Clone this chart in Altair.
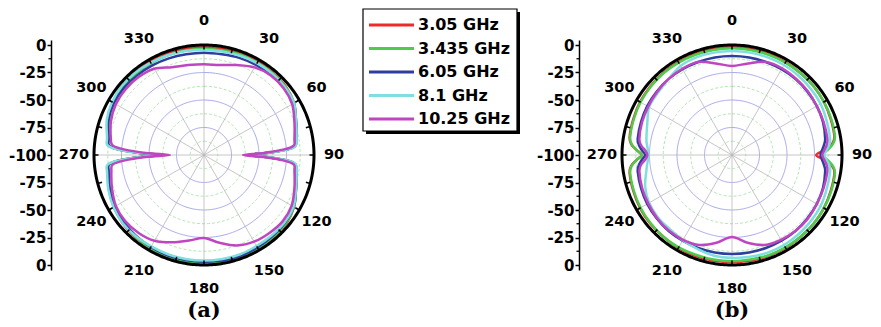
import altair as alt
import pandas as pd

SERIES = ["3.05 GHz", "3.435 GHz", "6.05 GHz", "8.1 GHz", "10.25 GHz"]
COLORS = ["#ee2a2a", "#4ccc4c", "#2e3d9e", "#7fdede", "#c045c0"]

ANGLE_LABELS = [0, 30, 60, 90, 120, 150, 180, 210, 240, 270, 300, 330]
RING_MAJOR = [-75, -50, -25]
RING_MINOR = [-87.5, -62.5, -37.5, -12.5]
AXIS_MAJOR = [0, -25, -50, -75, -100]
AXIS_MINOR = [-12.5, -37.5, -62.5, -87.5]

# ---------------- panel (a) ----------------
A_ANGLES = [0, 10, 20, 30, 40, 50, 60, 70, 80, 84, 86, 88, 90, 92, 94, 96, 100, 110, 120, 130,
            140, 150, 160, 170, 180, 190, 200, 210, 220, 230, 240, 250, 260, 264, 266, 268, 270,
            272, 274, 276, 280, 290, 300, 310, 320, 330, 340, 350]
A_305 = [-2, -2, -2, -2, -2.5, -3, -5.5, -11, -15, -16.5, -23, -41, -60, -41, -23, -16.5, -15, -11, -5.5, -2.5,
         -2, -1.5, -1, -1, -1, -1, -1.5, -2, -2.5, -3.5, -5.5, -8, -11.5, -12.5, -20, -38, -59,
         -38, -20, -12.5, -11.5, -7.5, -4.5, -3, -2.5, -2, -2, -2]
A_3435 = [-3.5, -3.5, -3, -3, -3, -3.5, -5.5, -11, -15, -16.5, -23, -42, -61, -42, -23, -16.5, -15, -11, -5.5, -3,
          -2.5, -2, -1.5, -1.5, -1.5, -2, -2, -2.5, -3, -4, -5.5, -8.5, -12, -13, -21, -40, -61,
          -40, -21, -13, -12, -8, -5, -4, -3.5, -3.5, -3.5, -3.5]
A_605 = [-7, -7, -6, -5.5, -5, -5, -6, -11, -15, -16.5, -23, -42, -61, -42, -23, -16.5, -15, -11, -6, -4,
         -3.5, -3, -2.5, -2.5, -3, -3, -3, -3.5, -4, -5, -6.5, -9, -12, -13, -21, -40, -60,
         -40, -21, -13, -12, -7.5, -5.5, -5, -5.5, -6, -6.5, -7]
A_81 = [-4.5, -4.5, -4, -3.5, -3.5, -4, -5.5, -11, -14.5, -16, -22, -41, -60, -41, -22, -16, -14.5, -11, -6, -4.5,
        -4.5, -4.5, -4, -4, -4, -4, -4, -4, -3.5, -3.5, -5, -7.5, -10.5, -11.5, -19, -38, -59,
        -38, -19, -11.5, -10.5, -6, -3.5, -2.5, -2.5, -3, -3.5, -4]
A_1025 = [-17.5, -17, -13, -8, -5.5, -5.5, -7.5, -12.5, -16.5, -18, -27, -45.5, -64.5, -45.5, -27, -18, -16.5, -12.5, -8, -6.5,
          -7.5, -9, -12.5, -19, -24.5, -21, -15.5, -10, -7.5, -6.5, -7.5, -11, -14.5, -16.5, -27, -47, -69,
          -47, -27, -16.5, -14, -10, -7.5, -7, -7.5, -9.5, -15, -17]

# ---------------- panel (b) ----------------
B_ANGLES = [0, 10, 20, 30, 40, 50, 60, 70, 80, 84, 87, 90, 93, 96, 100, 110, 120, 130, 140, 150,
            160, 170, 180, 190, 200, 210, 220, 230, 240, 250, 260, 264, 267, 270, 273, 276, 280,
            290, 300, 310, 320, 330, 340, 350]
B_305 = [-2, -2, -2, -2.5, -3, -3, -3.5, -4.5, -5.5, -9, -16, -23.5, -16, -9, -5.5, -4.5, -3.5, -3, -3, -2.5,
         -2.5, -2.5, -2.5, -2.5, -2.5, -2.5, -3, -3, -3.5, -4.5, -5.5, -8, -13, -18, -13, -8, -5.5,
         -4.5, -3.5, -3, -2.5, -2.5, -2, -2]
B_3435 = [-3, -3, -3, -3, -3, -3, -3.5, -4, -5, -8, -13, -18, -13, -8, -5, -4, -3.5, -3, -3, -3,
          -3, -3.5, -3.5, -3.5, -3.5, -3, -3, -3.5, -4, -5, -6, -8.5, -13, -18, -13, -8.5, -6,
          -5, -4, -3.5, -3, -3, -3, -3]
B_605 = [-10, -10, -10, -10, -10, -10.5, -11, -12, -14, -16, -18, -19.5, -18, -16, -14, -12, -11, -10.5, -10, -10,
         -10, -10, -10, -10, -10, -10, -10, -10.5, -11, -12, -13, -15, -18, -21, -18, -15, -13,
         -12, -11, -10.5, -10, -10, -10, -10]
B_81 = [-5.5, -5.5, -5.5, -5.5, -6, -6.5, -7, -8.5, -9.5, -11, -14, -16, -14, -11, -9.5, -8.5, -7, -6.5, -6, -5.5,
        -5.5, -6, -6.5, -7, -9, -10.5, -12, -12, -13, -16, -21, -22.5, -23.5, -24, -23.5, -22.5, -21,
        -18, -13, -12, -10, -6.5, -5.5, -5.5]
B_1025 = [-19, -15.5, -10, -9, -9.5, -10, -11, -11.5, -12, -13.5, -16, -18, -16, -13.5, -12, -11.5, -11, -10, -10, -11,
          -13, -19, -25.5, -19, -13, -11, -10.5, -11, -12, -13, -14.5, -17, -21, -23, -21, -17, -14.5,
          -13, -12, -11, -10, -9.5, -10, -15.5]

# ---------------- style ----------------
K = 1.1          # pixels per dB
HALF = 115       # half size of a polar plot area (px)
AX_OFF = 38      # distance of radial axis from plot area (px)
LEG_W = 298
FONT = "DejaVu Sans"
color_scale = alt.Scale(domain=SERIES, range=COLORS)


def curves_df(angles, lists):
    rows = []
    for s, vals in zip(SERIES, lists):
        for a, v in zip(angles, vals):
            rows.append({"series": s, "angle": a, "db": v})
    return pd.DataFrame(rows)


def panel(angles, lists, tag, shift=0.0):
    dom = HALF / K
    xs = alt.Scale(domain=[-dom, dom], nice=False, zero=False)
    ys = alt.Scale(domain=[-dom - shift, dom - shift], nice=False, zero=False)
    major_vals = sorted(set([d + 100 for d in AXIS_MAJOR] + [-(d + 100) for d in AXIS_MAJOR]))
    minor_vals = [d + 100 for d in AXIS_MINOR] + [-(d + 100) for d in AXIS_MINOR]
    y_axis = alt.Axis(values=major_vals, orient="left", offset=AX_OFF,
                      labelExpr="abs(datum.value) - 100", title=None,
                      grid=False, labelFont=FONT, labelFontSize=15,
                      labelFontWeight="bold", labelColor="black",
                      labelPadding=1, labelFlush=False, labelOverlap=False,
                      tickSize=4, tickWidth=1.5, tickColor="black",
                      domainColor="black", domainWidth=1.5)

    def X(f):
        return alt.X(f, type="quantitative", scale=xs, axis=None)

    def Y(f):
        return alt.Y(f, type="quantitative", scale=ys, axis=y_axis)

    def rings(levels, color, width, dash):
        arr = "[" + ",".join(str(l + 100) for l in levels) + "]"
        return (alt.Chart(alt.sequence(0, 361, 2, as_="a"))
                .transform_calculate(u=arr)
                .transform_flatten(["u"])
                .transform_calculate(x="datum.u*sin(datum.a*PI/180)",
                                     y="datum.u*cos(datum.a*PI/180)")
                .mark_line(color=color, strokeWidth=width, strokeDash=dash)
                .encode(x=X("x"), y=Y("y"), detail="u:Q", order="a:Q"))

    minor = rings(RING_MINOR, "#9fe09f", 0.8, [3, 2])
    major = rings(RING_MAJOR, "#8f8fe8", 0.8, [1, 0])

    spokes = (alt.Chart(alt.sequence(0, 360, 30, as_="a"))
              .transform_calculate(x0="0", y0="0",
                                   x1="100*sin(datum.a*PI/180)",
                                   y1="100*cos(datum.a*PI/180)")
              .mark_rule(color="#b8b8b8", strokeWidth=0.8)
              .encode(x=X("x0"), y=Y("y0"), x2="x1:Q", y2="y1:Q"))

    outer = (alt.Chart(alt.sequence(0, 361, 1, as_="a"))
             .transform_calculate(x="100*sin(datum.a*PI/180)", y="100*cos(datum.a*PI/180)")
             .mark_line(color="black", strokeWidth=3)
             .encode(x=X("x"), y=Y("y"), order="a:Q"))

    tl = 100 - 4.5 / K
    ticks = (alt.Chart(alt.sequence(0, 360, 15, as_="a"))
             .transform_calculate(x0="100*sin(datum.a*PI/180)", y0="100*cos(datum.a*PI/180)",
                                  x1=f"{tl}*sin(datum.a*PI/180)", y1=f"{tl}*cos(datum.a*PI/180)")
             .mark_rule(color="black", strokeWidth=1.5)
             .encode(x=X("x0"), y=Y("y0"), x2="x1:Q", y2="y1:Q"))

    lrx = 130 / K
    lry = 134 / K
    labels = (alt.Chart(pd.DataFrame({"a": ANGLE_LABELS}))
              .transform_calculate(x=f"{lrx}*sin(datum.a*PI/180)", y=f"{lry}*cos(datum.a*PI/180)",
                                   t="toString(datum.a)")
              .mark_text(font=FONT, fontSize=14.5, fontWeight="bold", color="black",
                         align="center", baseline="middle")
              .encode(x=X("x"), y=Y("y"), text="t:N"))

    curves = (alt.Chart(curves_df(angles, lists))
              .transform_calculate(u="datum.db + 100")
              .transform_calculate(x="datum.u*sin(datum.angle*PI/180)",
                                   y="datum.u*cos(datum.angle*PI/180)")
              .mark_line(strokeWidth=2.5, interpolate="cardinal-closed")
              .encode(x=X("x"), y=Y("y"),
                      color=alt.Color("series:N", scale=color_scale, legend=None),
                      detail="series:N", order="angle:Q"))

    axis_layer = (alt.Chart(pd.DataFrame({"v": minor_vals}))
                  .mark_rule(color="black", strokeWidth=1.3)
                  .encode(x=alt.value(-AX_OFF), x2=alt.value(-AX_OFF - 2.5), y=Y("v")))

    return alt.layer(axis_layer, minor, major, spokes, curves, outer, ticks, labels).properties(
        width=2 * HALF, height=2 * HALF,
        title=alt.TitleParams(tag, orient="bottom", frame="group", anchor="middle",
                              font="DejaVu Serif", fontSize=21, fontWeight="bold",
                              color="black", offset=4))


panel_a = panel(A_ANGLES, [A_305, A_3435, A_605, A_81, A_1025], "(a)")
panel_b = panel(B_ANGLES, [B_305, B_3435, B_605, B_81, B_1025], "(b)")

# ---------------- legend panel ----------------
one = pd.DataFrame({"k": [0]})
shadow = alt.Chart(one).mark_rect(fill="black").encode(
    x=alt.value(47), x2=alt.value(201), y=alt.value(-28), y2=alt.value(94))
box = alt.Chart(one).mark_rect(fill="white", stroke="black", strokeWidth=1.2).encode(
    x=alt.value(44), x2=alt.value(198), y=alt.value(-31), y2=alt.value(91))
ly = alt.Y("series:N", scale=alt.Scale(type="point", domain=SERIES, range=[-15, 79], padding=0),
           axis=None)
leg_df = pd.DataFrame({"series": SERIES})
swatch = alt.Chart(leg_df).mark_rule(strokeWidth=3).encode(
    x=alt.value(50), x2=alt.value(95), y=ly,
    color=alt.Color("series:N", scale=color_scale, legend=None))
ltext = alt.Chart(leg_df).mark_text(font=FONT, fontSize=16, fontWeight="bold", color="black",
                                    align="left", baseline="middle").encode(
    x=alt.value(99), y=ly, text="series:N")
legend_panel = alt.layer(shadow, box, swatch, ltext).properties(width=LEG_W, height=2 * HALF)

chart = (alt.hconcat(panel_a, legend_panel, panel_b, spacing=0, bounds="flush")
         .resolve_scale(x="independent", y="independent")
         .properties(padding=0)
         .configure_view(stroke=None))

chart.save("out.html", embed_options={"renderer": "svg", "actions": False})
